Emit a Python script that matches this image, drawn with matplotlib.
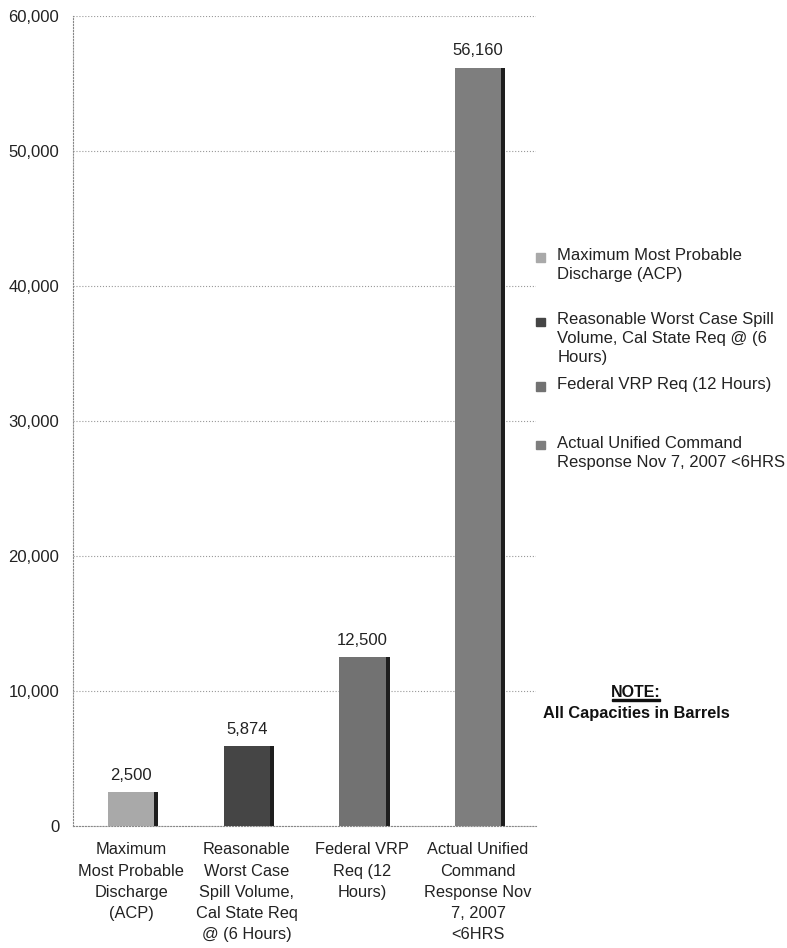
import matplotlib.pyplot as plt
import matplotlib.patches as mpatches
import numpy as np

plt.rcParams['font.family'] = ['Liberation Sans', 'DejaVu Sans']

categories = ["Maximum\nMost Probable\nDischarge\n(ACP)",
              "Reasonable\nWorst Case\nSpill Volume,\nCal State Req\n@ (6 Hours)",
              "Federal VRP\nReq (12\nHours)",
              "Actual Unified\nCommand\nResponse Nov\n7, 2007\n<6HRS"]
legend_labels = ["Maximum Most Probable\nDischarge (ACP)",
                 "Reasonable Worst Case Spill\nVolume, Cal State Req @ (6\nHours)",
                 "Federal VRP Req (12 Hours)",
                 "Actual Unified Command\nResponse Nov 7, 2007 <6HRS"]
values = [2500, 5874, 12500, 56160]
colors = ["#a9a9a9", "#454545", "#727272", "#7e7e7e"]

fig = plt.figure(figsize=(7.87, 9.48), dpi=100)
ax = fig.add_axes([0.093, 0.129, 0.588, 0.854])

x = np.arange(len(values))
w = 0.40
# shadow strip on the right of each bar
ax.bar(x + 0.035, values, width=w, color="#1e1e1e", zorder=2)
ax.bar(x, values, width=w, color=colors, zorder=3)
for xi, v in zip(x, values):
    ax.text(xi, v + 700, f"{v:,}", ha='center', va='bottom', fontsize=12, color="#222222")

ax.set_xlim(-0.5, 3.5)
ax.set_ylim(0, 60000)
ax.set_yticks(np.arange(0, 60001, 10000))
ax.set_yticklabels([f"{t:,}" for t in range(0, 60001, 10000)], fontsize=12, color="#222222")
ax.set_xticks(x)
ax.set_xticklabels(categories, fontsize=11.8, color="#222222", linespacing=1.52)
ax.tick_params(axis='y', length=0, pad=10)
ax.tick_params(axis='x', length=0, pad=12)
ax.yaxis.grid(True, linestyle=':', color="#999999", linewidth=0.8, zorder=0)
ax.set_axisbelow(True)
for s in ['top', 'right']:
    ax.spines[s].set_visible(False)
ax.spines['left'].set_linestyle(':')
ax.spines['left'].set_color("#888888")
ax.spines['bottom'].set_linestyle(':')
ax.spines['bottom'].set_color("#888888")

# legend placed at the right, uneven spacing as in the original
leg_y = [0.730, 0.662, 0.594, 0.532]
for lab, col, yy in zip(legend_labels, colors, leg_y):
    fig.patches.append(mpatches.Rectangle((0.681, yy - 0.006), 0.011, 0.009,
                                          transform=fig.transFigure, color=col))
    fig.text(0.708, yy + 0.0085, lab, ha='left', va='top', fontsize=12,
             color="#222222", linespacing=1.33)

fig.text(0.808, 0.262, "NOTE:", ha='center', va='bottom', fontsize=11.5,
         fontweight='bold', color="#111111")
fig.patches.append(mpatches.Rectangle((0.778, 0.261), 0.061, 0.0013,
                                      transform=fig.transFigure, color="#111111"))
fig.text(0.808, 0.255, "All Capacities in Barrels", ha='center', va='top', fontsize=11.8,
         fontweight='bold', color="#111111")

fig.savefig("out.png", dpi=100)
